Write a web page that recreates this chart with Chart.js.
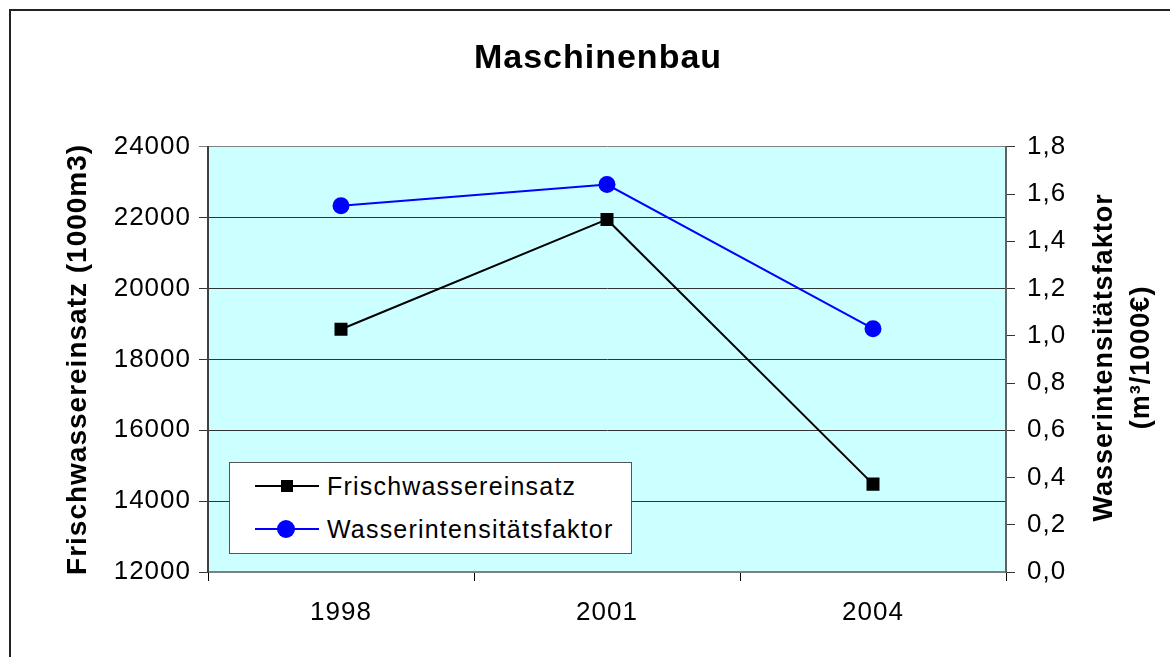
<!DOCTYPE html>
<html lang="de">
<head>
    <meta charset="UTF-8">
    <title>Maschinenbau</title>
    <style>
        body {
            margin: 0;
            padding: 0;
            background: #fff;
            font-family: 'Liberation Sans', Arial, sans-serif;
        }
        .wrap {
            position: relative;
            width: 1170px;
            height: 657px;
            overflow: hidden;
        }
        .frame {
            position: absolute;
            left: 9px;
            top: 9px;
            width: 1300px;
            height: 800px;
            border-left: 2px solid #222;
            border-top: 2px solid #222;
        }
        #chart {
            position: absolute;
            left: 0;
            top: 0;
        }
        .legend {
            position: absolute;
            left: 229px;
            top: 462px;
            width: 401px;
            height: 90px;
            background: #fff;
            border: 1px solid #555;
        }
        .legend-item {
            position: absolute;
            left: 0;
            height: 30px;
            width: 100%;
        }
        .legend-line {
            position: absolute;
            left: 25px;
            top: 14px;
            width: 64px;
            height: 2px;
        }
        .legend-marker {
            position: absolute;
            top: 8px;
        }
        .legend-text {
            position: absolute;
            left: 97px;
            top: 0;
            font-size: 25px;
            letter-spacing: 1.2px;
            line-height: 30px;
            color: #000;
            white-space: nowrap;
        }
    </style>
</head>
<body>
    <div class="wrap">
        <div class="frame"></div>
        <canvas id="chart" width="1170" height="657"></canvas>
        <div class="legend" id="legend"></div>
    </div>

    <script src="https://cdn.jsdelivr.net/npm/chart.js"></script>
    <script>
        // Daten
        const jahre = ['1998', '2001', '2004'];
        const frischwassereinsatz = [18850, 21950, 14480];
        const wasserintensitaet = [1.55, 1.64, 1.03];
        const linkeTicks = [12000, 14000, 16000, 18000, 20000, 22000, 24000];
        const rechteTicks = [0, 0.2, 0.4, 0.6, 0.8, 1.0, 1.2, 1.4, 1.6, 1.8];

        const schrift = "'Liberation Sans', Arial, sans-serif";

        // Hintergrund der Zeichenfläche
        const hintergrund = {
            id: 'hintergrund',
            beforeDraw(chart) {
                const a = chart.chartArea;
                const ctx = chart.ctx;
                ctx.save();
                ctx.fillStyle = '#ccffff';
                ctx.fillRect(a.left, a.top, a.right - a.left, a.bottom - a.top);
                ctx.restore();
            }
        };

        // etwas Zeichenabstand wie im Original
        const abstand = {
            id: 'abstand',
            beforeUpdate(chart) { chart.ctx.letterSpacing = '1px'; },
            beforeDraw(chart) { chart.ctx.letterSpacing = '1px'; }
        };

        // rechte Achsenbeschriftung (zweizeilig, von unten nach oben)
        const rechterTitel = {
            id: 'rechterTitel',
            afterDraw(chart) {
                const ctx = chart.ctx;
                const a = chart.chartArea;
                const mitte = (a.top + a.bottom) / 2 - 2;
                ctx.save();
                ctx.fillStyle = '#000';
                ctx.font = 'bold 27px ' + schrift;
                ctx.textAlign = 'center';
                ctx.textBaseline = 'middle';
                ctx.translate(1105, mitte);
                ctx.rotate(-Math.PI / 2);
                ctx.fillText('Wasserintensitätsfaktor', 0, 0);
                ctx.fillText('(m³/1000€)', 0, 37);
                ctx.restore();
            }
        };

        const ctx = document.getElementById('chart').getContext('2d');
        const chart = new Chart(ctx, {
            type: 'line',
            data: {
                labels: jahre,
                datasets: [{
                    label: 'Frischwassereinsatz',
                    data: frischwassereinsatz,
                    yAxisID: 'y',
                    borderColor: '#000',
                    backgroundColor: '#000',
                    borderWidth: 2,
                    pointStyle: 'rect',
                    pointRadius: 9.2,
                    pointBorderWidth: 0,
                    tension: 0
                }, {
                    label: 'Wasserintensitätsfaktor',
                    data: wasserintensitaet,
                    yAxisID: 'y1',
                    borderColor: '#0000ff',
                    backgroundColor: '#0000ff',
                    borderWidth: 2,
                    pointStyle: 'circle',
                    pointRadius: 8.5,
                    pointBorderWidth: 0,
                    tension: 0
                }]
            },
            options: {
                responsive: false,
                animation: false,
                devicePixelRatio: 1,
                layout: { padding: { left: 26, right: 0, top: 0, bottom: 0 } },
                plugins: {
                    legend: { display: false },
                    tooltip: { enabled: false },
                    title: {
                        display: true,
                        text: 'Maschinenbau',
                        color: '#000',
                        font: { family: schrift, size: 34, weight: 'bold' },
                        padding: { top: 38, bottom: 68 }
                    }
                },
                scales: {
                    x: {
                        type: 'category',
                        offset: true,
                        grid: { offset: true, drawOnChartArea: false, tickLength: 9, color: '#000' },
                        border: { color: '#808080', width: 2 },
                        ticks: { color: '#000', padding: 16, font: { family: schrift, size: 26 } },
                        afterFit(scale) { scale.height = 85; }
                    },
                    y: {
                        position: 'left',
                        min: 12000,
                        max: 24000,
                        afterBuildTicks(scale) { scale.ticks = linkeTicks.map(v => ({ value: v })); },
                        grid: {
                            tickLength: 9,
                            color: c => (c.tick && c.tick.value === 24000) ? '#808080' : '#333'
                        },
                        border: { color: '#404040', width: 2 },
                        ticks: {
                            color: '#000',
                            padding: 8,
                            font: { family: schrift, size: 26 },
                            callback: v => String(v)
                        },
                        title: {
                            display: true,
                            text: 'Frischwassereinsatz (1000m3)',
                            color: '#000',
                            font: { family: schrift, size: 28, weight: 'bold' },
                            padding: { top: 35, bottom: 0 }
                        },
                        afterFit(scale) { scale.width = 182; }
                    },
                    y1: {
                        position: 'right',
                        min: 0,
                        max: 1.8,
                        afterBuildTicks(scale) { scale.ticks = rechteTicks.map(v => ({ value: v })); },
                        grid: { drawOnChartArea: false, tickLength: 9, color: '#333' },
                        border: { color: '#606060', width: 2 },
                        ticks: {
                            color: '#000',
                            padding: 12,
                            font: { family: schrift, size: 26 },
                            callback: v => v.toFixed(1).replace('.', ',')
                        },
                        afterFit(scale) { scale.width = 164; }
                    }
                }
            },
            plugins: [abstand, hintergrund, rechterTitel]
        });

        // Legende im Diagramm (HTML)
        const legende = document.getElementById('legend');
        chart.data.datasets.forEach((ds, i) => {
            const item = document.createElement('div');
            item.className = 'legend-item';
            item.style.top = (8 + i * 43) + 'px';
            const linie = document.createElement('span');
            linie.className = 'legend-line';
            linie.style.background = ds.borderColor;
            const marker = document.createElement('span');
            marker.className = 'legend-marker';
            if (ds.pointStyle === 'rect') {
                marker.style.cssText = 'left:51px;top:9px;width:12px;height:12px;background:' + ds.backgroundColor;
            } else {
                marker.style.cssText = 'left:47px;top:6px;width:18px;height:18px;border-radius:50%;background:' + ds.backgroundColor;
            }
            const text = document.createElement('span');
            text.className = 'legend-text';
            text.textContent = ds.label;
            item.appendChild(linie);
            item.appendChild(marker);
            item.appendChild(text);
            legende.appendChild(item);
        });
    </script>
</body>
</html>
